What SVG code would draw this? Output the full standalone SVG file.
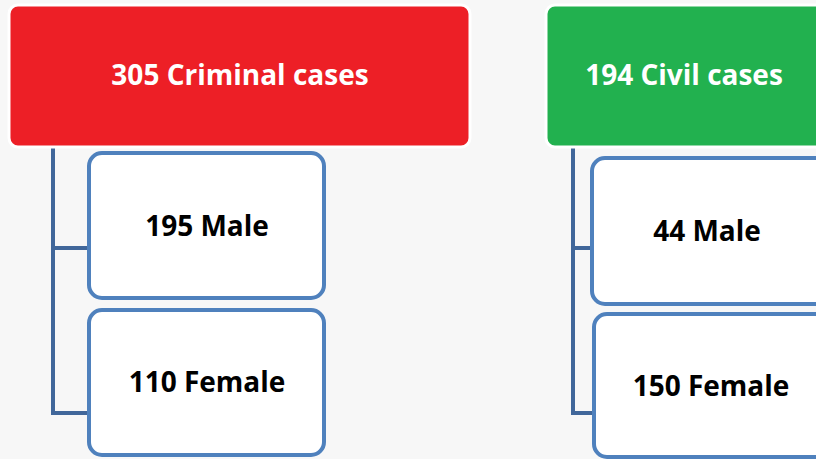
<svg xmlns="http://www.w3.org/2000/svg" width="816" height="459" viewBox="0 0 816 459">
<style>
.hdr{stroke:#fff;stroke-width:3}
.leaf{fill:#fff;stroke:#4F81BD;stroke-width:4}
.conn{fill:none;stroke:#41679A;stroke-width:4}
text{font-family:"Open Sans","Noto Sans",sans-serif;font-weight:bold;font-size:28px;text-anchor:middle}
.w{fill:#fff}
.b{fill:#000}
</style>
<rect width="816" height="459" fill="#f7f7f7"/>
<g id="connectors">
<path class="conn" d="M53 146 V413 H92 M53 248 H92"/>
<path class="conn" d="M573 146 V413 H595 M573 248 H595"/>
</g>
<g id="criminal">
<rect class="hdr" x="9" y="5" width="461" height="142" rx="9" fill="#ED1F26"/>
<text class="w" x="240" y="85">305 Criminal cases</text>
</g>
<g id="crim-male">
<rect class="leaf" x="89" y="153" width="235" height="145" rx="13"/>
<text class="b" x="207" y="236">195 Male</text>
</g>
<g id="crim-female">
<rect class="leaf" x="89" y="310" width="235" height="145" rx="13"/>
<text class="b" x="207" y="392">110 Female</text>
</g>
<g id="civil">
<rect class="hdr" x="546" y="5" width="280" height="142" rx="9" fill="#22B14F"/>
<text class="w" x="684" y="85">194 Civil cases</text>
</g>
<g id="civil-male">
<rect class="leaf" x="592" y="158" width="240" height="146" rx="13"/>
<text class="b" x="707" y="241">44 Male</text>
</g>
<g id="civil-female">
<rect class="leaf" x="594" y="314" width="240" height="143" rx="13"/>
<text class="b" x="711" y="396">150 Female</text>
</g>
</svg>
